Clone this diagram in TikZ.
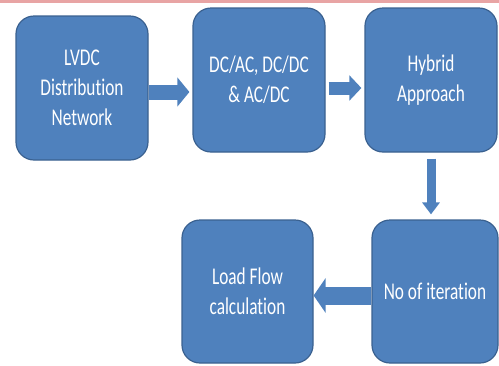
\documentclass[tikz,border=0pt]{standalone}
\usepackage{fontspec}
\setmainfont{Carlito}[FakeStretch=0.72, Ligatures={NoCommon,NoContextual}]
\usepackage{tikz}
\usetikzlibrary{arrows.meta,positioning,calc}
\definecolor{boxblue}{HTML}{4F81BD}
\definecolor{boxedge}{HTML}{3A6190}
\definecolor{rosestrip}{HTML}{E8A4A4}
\tikzset{
  flowbox/.style={rectangle, rounded corners=18pt, draw=boxedge, fill=boxblue, line width=1.2pt,
                  align=center, inner sep=0pt, text=white, font=\fontsize{24}{30}\selectfont,
                  minimum width=132pt, minimum height=144pt},
  blockarrow/.style={-{Triangle[length=12pt, width=0pt 1.9]}, draw=boxblue, line width=#1},
  blockarrow/.default=15pt
}
\begin{document}
\begin{tikzpicture}[x=1pt, y=-1pt]
\useasboundingbox (0,0) rectangle (499,365);
\fill[rosestrip] (0,0) rectangle (499,2.5);

% --- top row
\node[flowbox] (lvdc) at (82,88) {LVDC\\Distribution\\Network};
\node[flowbox] (conv) at (259,80) {DC/AC, DC/DC\\\& AC/DC};
\node[flowbox] (hybrid) at (431,80) {Hybrid\\Approach};

% --- bottom row
\node[flowbox, minimum width=131pt, minimum height=143pt] (load) at (247.5,291.5) {Load Flow\\calculation};
\node[flowbox, minimum width=126pt, minimum height=143pt] (iter) at (435,291.5) {No of iteration};

\draw[blockarrow, shorten >=3pt] ([yshift=-4pt]lvdc.east) -- ([yshift=-4pt]lvdc.east -| conv.west);
\draw[blockarrow=13pt, shorten <=3pt, shorten >=3pt] ([yshift=-8pt]conv.east) -- ([yshift=-8pt]hybrid.west);
\draw[blockarrow=9pt, shorten <=6pt, shorten >=5pt] (hybrid.south) -- (hybrid.south |- iter.north);
\draw[blockarrow=18pt] ([yshift=-4pt]iter.west) -- ([yshift=-4pt]load.east);
\end{tikzpicture}
\end{document}
